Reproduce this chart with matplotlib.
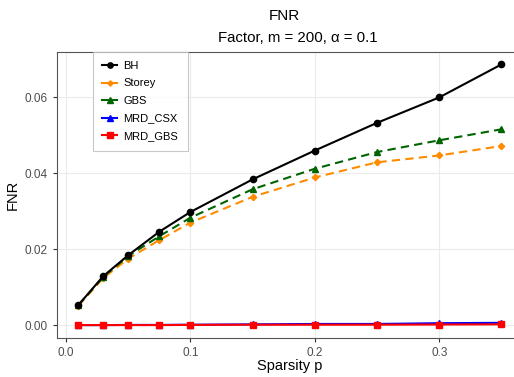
import matplotlib
matplotlib.use("Agg")
import matplotlib.pyplot as plt

p = [0.01, 0.03, 0.05, 0.075, 0.1, 0.15, 0.2, 0.25, 0.3, 0.35]
bh = [0.0053, 0.0129, 0.0184, 0.0246, 0.0298, 0.0384, 0.0460, 0.0533, 0.0600, 0.0687]
storey = [0.0051, 0.0124, 0.0175, 0.0224, 0.0270, 0.0338, 0.0389, 0.0429, 0.0447, 0.0472]
gbs = [0.0053, 0.0127, 0.0182, 0.0234, 0.0283, 0.0358, 0.0412, 0.0456, 0.0487, 0.0516]
mrd_csx = [0.0, 0.0, 0.00005, 0.00005, 0.0001, 0.0002, 0.0003, 0.0003, 0.0005, 0.0006]
mrd_gbs = [0.0, 0.0, 0.0, 0.0, 0.00005, 0.0001, 0.0001, 0.0001, 0.00015, 0.0002]

plt.rcParams['font.family'] = ['Liberation Sans', 'DejaVu Sans']

fig = plt.figure(figsize=(5.14, 3.77), dpi=100)
ax = fig.add_axes([57/514, 39/377, (522.6-57)/514, (338-51.5)/377])

ax.plot(p, bh, color='black', lw=1.5, marker='o', ms=4.5, label='BH', zorder=5)
ax.plot(p, storey, color='#FF8C00', lw=1.5, ls=(0, (4, 2.5)), marker='D', ms=3.2, label='Storey', zorder=3)
ax.plot(p, gbs, color='#006400', lw=1.5, ls=(0, (4, 2.5)), marker='^', ms=5, label='GBS', zorder=4)
ax.plot(p, mrd_csx, color='blue', lw=1.5, marker='^', ms=5, label='MRD_CSX', zorder=3)
ax.plot(p, mrd_gbs, color='red', lw=1.5, marker='s', ms=5, label='MRD_GBS', zorder=4)

ax.set_xlim(-0.0072, 0.367)
ax.set_ylim(-0.0034, 0.0721)
ax.set_xticks([0.0, 0.1, 0.2, 0.3])
ax.set_xticklabels(['0.0', '0.1', '0.2', '0.3'])
ax.set_yticks([0.0, 0.02, 0.04, 0.06])
ax.set_yticklabels(['0.00', '0.02', '0.04', '0.06'])
ax.grid(True, color='#EBEBEB', lw=0.8)
ax.set_axisbelow(True)
for s in ax.spines.values():
    s.set_color('#555555')
    s.set_linewidth(0.8)
ax.tick_params(colors='#333333', labelcolor='#4D4D4D', labelsize=8.5, length=3, width=0.8)

ax.set_xlabel('Sparsity p', fontsize=10.5, labelpad=0)
ax.set_ylabel('FNR', fontsize=10.5, labelpad=4)
fig.text(284/514, 1 - 16/377, 'FNR', ha='center', va='center', fontsize=11)
fig.text(298/514, 1 - 37.5/377, 'Factor, m = 200, \u03b1 = 0.1', ha='center', va='center', fontsize=10.8)

leg = ax.legend(loc='upper left', bbox_to_anchor=((93-57)/(522.6-57), 1.0), fontsize=8,
                frameon=True, fancybox=False, edgecolor='#BBBBBB', handlelength=1.3,
                handletextpad=0.6, borderpad=0.85, labelspacing=0.68, borderaxespad=0,
                markerscale=0.85)
leg.get_frame().set_linewidth(0.8)
for h in leg.get_lines():
    h.set_linestyle('-')

fig.savefig('out.png', dpi=100)
